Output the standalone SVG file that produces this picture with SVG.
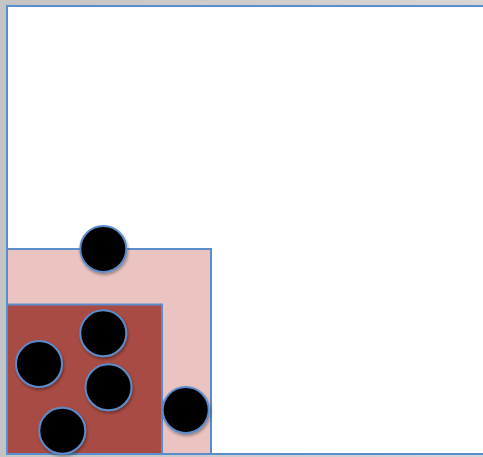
<svg xmlns="http://www.w3.org/2000/svg" width="483" height="457" viewBox="0 0 483 457">
<defs>
<linearGradient id="bg" x1="0" y1="0" x2="1" y2="0">
<stop offset="0" stop-color="#c4c4c4"/><stop offset="1" stop-color="#d6d6d6"/>
</linearGradient>
<filter id="sh" x="-30%" y="-30%" width="160%" height="160%">
<feDropShadow dx="1" dy="2" stdDeviation="1.5" flood-color="#000" flood-opacity="0.35"/>
</filter>
</defs>
<style>
.b{stroke:#5b8ccc;stroke-width:2}
.c{fill:#000;stroke:#5b8ccc;stroke-width:2}
</style>
<rect x="0" y="0" width="483" height="457" fill="url(#bg)"/>
<g id="frame"><rect class="b" x="7" y="6" width="480" height="448" fill="#fff"/></g>
<g id="outerBox"><rect class="b" x="7" y="249" width="204" height="205" fill="#ebc4c2"/></g>
<g id="innerBox"><rect class="b" x="7" y="304.5" width="155" height="149.5" fill="#a84b44"/></g>
<g id="c1" filter="url(#sh)"><circle class="c" cx="103.3" cy="249" r="23"/></g>
<g id="c2" filter="url(#sh)"><circle class="c" cx="103.3" cy="333.3" r="23"/></g>
<g id="c3" filter="url(#sh)"><circle class="c" cx="39" cy="364" r="23"/></g>
<g id="c4" filter="url(#sh)"><circle class="c" cx="108.5" cy="387.3" r="23"/></g>
<g id="c5" filter="url(#sh)"><circle class="c" cx="185.7" cy="410" r="23"/></g>
<g id="c6" filter="url(#sh)"><circle class="c" cx="62.3" cy="430.7" r="23"/></g>
<g id="connectors"></g>
</svg>
